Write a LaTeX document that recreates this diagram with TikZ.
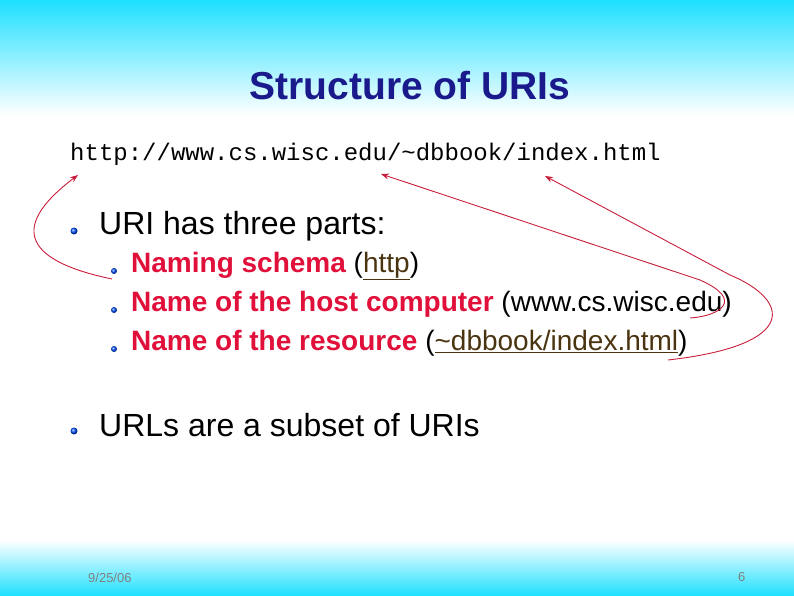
\documentclass[tikz,border=0pt]{standalone}
\usepackage{fontspec}
\setmainfont{Liberation Sans}
\newfontfamily\mono{Liberation Mono}
\usetikzlibrary{arrows.meta}
\definecolor{rd}{HTML}{E0103A}
\definecolor{cy}{HTML}{1EE0FF}
\definecolor{ttl}{HTML}{1A1A8C}
\definecolor{lnk}{HTML}{4A3410}
\definecolor{arr}{HTML}{C81E3C}
\begin{document}
\begin{tikzpicture}[x=1pt,y=-1pt,
  txt/.style={anchor=west,inner sep=0pt},
  bul/.style={circle,inner sep=0pt,minimum size=7pt,ball color=blue!70!cyan},
  con/.style={arr,line width=0.9pt,-{Stealth[length=8pt,width=6pt]}}]
\useasboundingbox (0,0) rectangle (794,596);
\shade[top color=cy,bottom color=white] (0,0) rectangle (794,115);
\shade[top color=white,bottom color=cy] (0,540) rectangle (794,596);
\node[txt,anchor=center,text=ttl,font=\bfseries\fontsize{39}{44}\selectfont] (t) at (410,86) {Structure of URIs};
\node[txt,font=\mono\fontsize{24}{28}\selectfont] (u) at (70,154) {http://www.cs.wisc.edu/\textasciitilde dbbook/index.html};
\node[bul] (b1) at (74,231) {};
\node[txt,font=\fontsize{32}{36}\selectfont] (l1) at (99,226) {URI has three parts:};
\node[bul,minimum size=6pt] (s1) at (114,271) {};
\node[bul,minimum size=6pt] (s2) at (114,310) {};
\node[bul,minimum size=6pt] (s3) at (114,349) {};
\node[txt,font=\fontsize{28}{32}\selectfont] (n1) at (131,266) {\textcolor{rd}{\bfseries Naming schema} (\textcolor{lnk}{\underline{http}})};
\node[txt,font=\fontsize{28}{32}\selectfont] (n2) at (131,304) {\textcolor{rd}{\bfseries Name of the host computer} (www.cs.wisc.edu)};
\node[txt,font=\fontsize{28}{32}\selectfont] (n3) at (131,343) {\textcolor{rd}{\bfseries Name of the resource} (\textcolor{lnk}{\underline{\textasciitilde dbbook/index.html}})};
\node[bul] (b2) at (74,431) {};
\node[txt,font=\fontsize{32}{36}\selectfont] (l2) at (99,425) {URLs are a subset of URIs};
\node[txt,text=gray,font=\fontsize{13}{15}\selectfont] (d) at (88,578) {9/25/06};
\node[txt,text=gray,font=\fontsize{13}{15}\selectfont] (p) at (738,577) {6};
\coordinate (a1s) at (112,279); \coordinate (a1e) at (78,175);
\coordinate (a2s) at (690,318); \coordinate (a2e) at (381,174);
\coordinate (a3s) at (668,360); \coordinate (a3e) at (545,176);
\draw[con] (a1s) .. controls (30,262) and (5,230) .. (a1e);
\draw[con] (a2s) .. controls (720,316) and (745,300) .. (700,280) -- (a2e);
\draw[con] (a3s) .. controls (800,345) and (790,300) .. (730,275) -- (a3e);
\end{tikzpicture}
\end{document}
